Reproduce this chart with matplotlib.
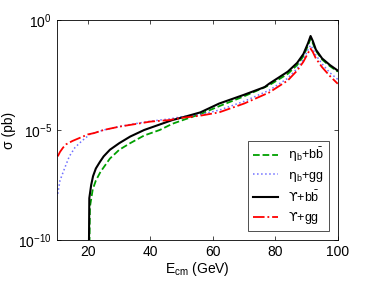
import numpy as np
import matplotlib
matplotlib.use("Agg")
import matplotlib.pyplot as plt
from matplotlib.ticker import NullLocator

plt.rcParams['font.family'] = ['Liberation Sans', 'DejaVu Sans']
plt.rcParams['mathtext.fontset'] = 'custom'
plt.rcParams['mathtext.rm'] = 'Liberation Sans'
plt.rcParams['mathtext.it'] = 'Liberation Sans:italic'
plt.rcParams['mathtext.sf'] = 'DejaVu Sans'

# log10(sigma / pb)
e_ups_bb = [20.2, 20.4, 21.0, 21.6, 22.5, 23.8, 25, 27, 30, 33.5, 38, 43, 47, 51, 56, 62,
            70, 76.6, 78, 84, 87, 89, 90.5, 91.3, 92, 93, 95, 97.5, 100]
s_ups_bb = [-12, -8.1, -7.5, -7.1, -6.75, -6.45, -6.2, -5.9, -5.6, -5.3, -5.0, -4.75, -4.55,
            -4.4, -4.2, -3.8, -3.4, -3.05, -2.9, -2.35, -1.95, -1.55, -1.05, -0.73, -0.95,
            -1.35, -1.75, -2.05, -2.3]

e_eta_bb = [20.3, 20.6, 21.5, 22.5, 24, 27, 30, 33.5, 38, 43, 47, 51, 56, 62, 70, 78, 84,
            87, 89, 90.5, 91.3, 92, 93, 95, 97.5, 100]
s_eta_bb = [-12, -8.5, -7.7, -7.3, -6.9, -6.3, -5.9, -5.6, -5.25, -5.0, -4.72, -4.52, -4.28,
            -3.92, -3.47, -2.97, -2.45, -2.05, -1.65, -1.15, -0.85, -1.05, -1.4, -1.8, -2.1,
            -2.35]

e_ups_gg = [10.3, 11, 12, 13, 15, 17.5, 20, 22, 25, 30, 33.5, 40, 46, 50, 56, 62, 70, 78,
            84, 87, 89, 90.5, 91.3, 92, 93, 95, 97.5, 100]
s_ups_gg = [-6.2, -6.0, -5.8, -5.65, -5.5, -5.35, -5.2, -5.14, -5.0, -4.85, -4.77, -4.62,
            -4.55, -4.45, -4.35, -4.2, -3.8, -3.3, -2.75, -2.3, -1.9, -1.5, -1.3, -1.45,
            -1.75, -2.15, -2.55, -2.9]

e_eta_gg = [10.3, 11, 12.6, 14, 15.8, 18, 20.6, 25, 30, 33.5, 40, 46, 50, 56, 62, 70, 78,
            84, 87, 89, 90.5, 91.3, 92, 93, 95, 97.5, 100]
s_eta_gg = [-7.9, -7.3, -6.7, -6.2, -5.8, -5.5, -5.2, -5.0, -4.85, -4.75, -4.6, -4.5, -4.4,
            -4.3, -4.1, -3.7, -3.2, -2.65, -2.2, -1.8, -1.35, -1.15, -1.3, -1.6, -2.0, -2.4,
            -2.7]

fig = plt.figure(figsize=(3.74, 2.81), dpi=100)
ax = fig.add_axes([0.152, 0.146, 0.751, 0.783])

ax.plot(e_eta_bb, 10.0 ** np.array(s_eta_bb), '--', color='#00a000', lw=1.3,
        label=r'$\mathsf{η}_{\rm b}$+b$\bar{\rm b}$')
ax.plot(e_eta_gg, 10.0 ** np.array(s_eta_gg), ':', color='#6f6fff', lw=1.1,
        label=r'$\mathsf{η}_{\rm b}$+gg')
ax.plot(e_ups_bb, 10.0 ** np.array(s_ups_bb), '-', color='black', lw=1.5,
        label=r'$\mathsf{ϒ}$+b$\bar{\rm b}$')
ax.plot(e_ups_gg, 10.0 ** np.array(s_ups_gg), '-.', color='red', lw=1.3,
        label=r'$\mathsf{ϒ}$+gg')

ax.set_yscale('log')
ax.set_xlim(10, 100)
ax.set_ylim(1e-10, 1)
ax.set_xticks([20, 40, 60, 80, 100])
ax.set_yticks([1e-10, 1e-5, 1])
ax.yaxis.set_minor_locator(NullLocator())
ax.tick_params(direction='in', top=True, right=True, labelsize=10, length=3, width=0.5)
for s in ax.spines.values():
    s.set_linewidth(0.6)

ax.set_xlabel(r'E$_{\rm cm}$ (GeV)', fontsize=10, labelpad=1)
ax.set_ylabel(r'σ (pb)', fontsize=10, labelpad=2)

leg = ax.legend(loc='lower right', fontsize=9, fancybox=False, edgecolor='black',
                handlelength=2.0, borderaxespad=0.7, labelspacing=0.45)
leg.get_frame().set_linewidth(0.6)

fig.savefig('out.png', dpi=100)
